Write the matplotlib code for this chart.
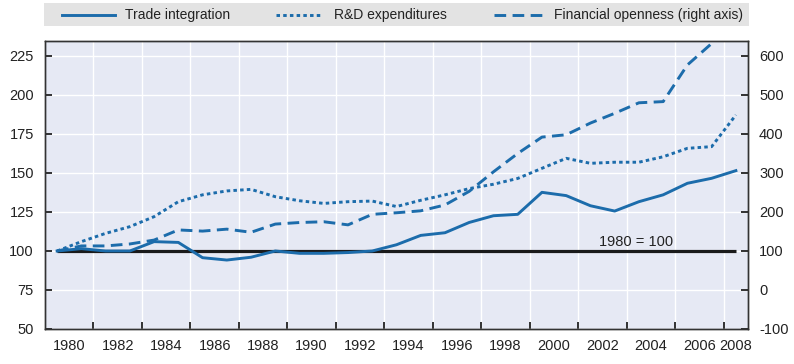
import matplotlib
matplotlib.use("Agg")
import matplotlib.pyplot as plt
from matplotlib.lines import Line2D
from matplotlib.ticker import FixedLocator

plt.rcParams["font.family"] = ["Liberation Sans", "DejaVu Sans"]
plt.rcParams["axes.unicode_minus"] = False

years = list(range(1980, 2009))
trade = [100, 101.5, 100, 100, 106, 105.5, 95.7, 94.2, 96, 100,
         98.5, 98.5, 99, 100, 104, 110, 111.7, 118.3, 122.6, 123.5,
         137.6, 135.5, 129, 125.6, 131.6, 136, 143.4, 146.6, 151.5]
rnd = [100, 106, 111.3, 115.6, 122, 131.6, 136, 138.5, 139.5, 134.8,
       132.2, 130.5, 131.6, 132, 128.5, 132.5, 136, 140, 142.8, 146.5,
       153, 159.4, 156.2, 156.9, 156.9, 160.4, 165.8, 166.9, 187.2]
# financial openness, right axis (ends in 2007)
fin_years = list(range(1980, 2008))
fin = [100, 113, 113, 118, 128, 154, 151, 156, 148, 169,
       173, 175, 167, 194, 198, 203, 218, 253, 303, 350,
       392, 398, 428, 453, 480, 483, 577, 632]

left_ticks = [50, 75, 100, 125, 150, 175, 200, 225]
right_ticks = [-100, 0, 100, 200, 300, 400, 500, 600]
label_years = list(range(1980, 2009, 2))
series_names = ["Trade integration", "R&D expenditures",
                "Financial openness (right axis)"]

blue = "#1c6cab"
bg = "#e6e9f4"
txt = "#222222"
dotted = (0, (1.2, 1.1))
dashed = (0, (4, 2.2))

W, H = 794, 364
fig = plt.figure(figsize=(W / 100, H / 100), dpi=100)
ax = fig.add_axes([45 / W, 35 / H, 703 / W, 288 / H])
ax.set_facecolor(bg)
ax2 = ax.twinx()

ylo, yhi = 50, 234.6
ax.set_ylim(ylo, yhi)
ax2.set_ylim(4 * ylo - 300, 4 * yhi - 300)
ax.set_xlim(1979.5, 2008.5)

ax.plot(years, [100] * len(years), color="#1a1a1a", lw=2.3, zorder=2,
        solid_capstyle="butt")
ax.plot(years, trade, color=blue, lw=2.1, zorder=3)
ax.plot(years, rnd, color=blue, lw=2.1, ls=dotted, zorder=3)
ax2.plot(fin_years, fin, color=blue, lw=2.1, ls=dashed, zorder=3)
ax.text(2003.9, 101.5, "1980 = 100", ha="center", va="bottom",
        fontsize=10.5, color=txt)

# x axis: tick marks between year pairs, labels centred in each pair
ax.xaxis.set_major_locator(FixedLocator([y + 1.5 for y in range(1980, 2007, 2)]))
ax.xaxis.set_minor_locator(FixedLocator([y + 0.5 for y in label_years[:-1]] + [2008]))
ax.set_xticklabels([], minor=False)
ax.set_xticklabels([str(y) for y in label_years], minor=True)
ax.tick_params(axis="x", which="major", direction="in", length=5, width=1.3,
               color=txt)
ax.tick_params(axis="x", which="minor", length=0, pad=7, labelsize=10.5,
               labelcolor=txt)

ax.set_yticks(left_ticks)
ax.tick_params(axis="y", direction="in", length=5, width=1.3, pad=8,
               labelsize=10.5, labelcolor=txt, color=txt)
ax2.set_yticks(right_ticks)
ax2.tick_params(axis="y", direction="in", length=5, width=1.3, pad=8,
                labelsize=10.5, labelcolor=txt, color=txt)

ax.grid(True, which="major", color="white", lw=1.0)
ax.set_axisbelow(True)
for a in (ax, ax2):
    for s in a.spines.values():
        s.set_color("#333333")
        s.set_linewidth(1.0)

# legend band drawn by hand to match the original spacing
fig.patches.append(plt.Rectangle((44 / W, 1 - 26 / H), 705 / W, 23 / H,
                                 transform=fig.transFigure, facecolor="#e3e3e3",
                                 edgecolor="none", zorder=0))
ly = 1 - 14.5 / H
for (x0, x1, xt), ls, name in zip([(62, 115, 125), (276, 322, 334), (494, 545, 554)],
                                  ["-", dotted, dashed], series_names):
    fig.lines.append(Line2D([x0 / W, x1 / W], [ly, ly], transform=fig.transFigure,
                            color=blue, lw=2.1, ls=ls))
    fig.text(xt / W, ly, name, ha="left", va="center", fontsize=10, color=txt)

fig.savefig("out.png", dpi=100)
